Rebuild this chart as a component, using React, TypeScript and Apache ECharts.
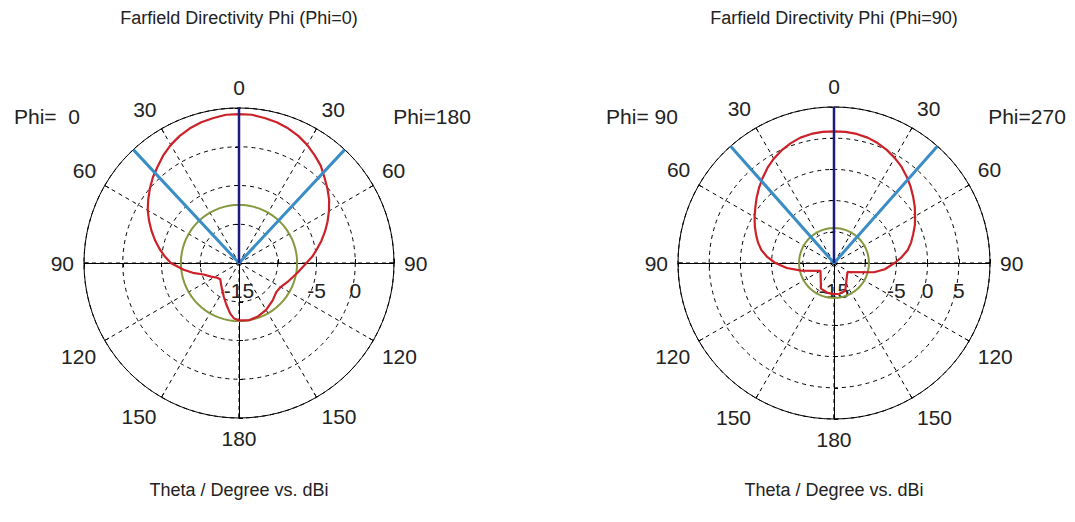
import React, { useEffect, useRef } from "react";
import * as echarts from "echarts";

// ---- data (theta measured clockwise from top, in degrees; values in dBi) ----
const phi0Theta = [0, 5, 10, 15, 20, 25, 30, 35, 40, 45, 50, 55, 60, 65, 70, 75, 80, 85, 90, 100, 110, 120, 128, 138, 150, 160, 170, 180, 185, 190, 197, 204, 212, 220, 229, 236, 244, 252, 258, 263, 270, 275, 280, 285, 290, 295, 300, 305, 310, 315, 320, 325, 330, 335, 340, 345, 350, 355, 360];
const phi0Db = [4.2, 4.2, 4.0, 3.8, 3.5, 3.1, 2.6, 2.0, 1.4, 0.6, -0.1, -0.8, -1.6, -2.4, -3.2, -4.0, -4.8, -5.5, -6.3, -7.4, -8.2, -8.8, -8.9, -8.5, -8.0, -7.7, -7.5, -7.6, -7.8, -8.4, -9.4, -10.2, -10.9, -11.4, -11.8, -11.6, -11.0, -10.2, -8.9, -7.8, -6.2, -5.4, -4.6, -3.8, -3.0, -2.2, -1.4, -0.7, 0.0, 0.7, 1.3, 2.0, 2.6, 3.1, 3.5, 3.8, 4.0, 4.2, 4.2];

const phi90Theta = [0, 5, 10, 15, 20, 25, 30, 35, 40, 45, 50, 55, 60, 65, 70, 75, 80, 85, 90, 97, 103, 124, 158, 170, 180, 192, 207, 240, 257, 264, 270, 275, 280, 285, 290, 295, 300, 305, 310, 315, 320, 325, 330, 335, 340, 345, 350, 355, 360];
const phi90Db = [6.1, 6.1, 6.0, 5.8, 5.45, 5.0, 4.45, 3.85, 3.1, 2.35, 1.55, 0.8, 0.0, -0.7, -1.5, -2.2, -3.0, -4.1, -5.3, -6.8, -8.4, -12.4, -10.2, -10.0, -10.0, -10.1, -10.4, -12.5, -9.6, -7.4, -5.6, -4.3, -3.2, -2.4, -1.7, -1.0, -0.3, 0.4, 1.2, 2.0, 2.8, 3.6, 4.3, 4.9, 5.4, 5.8, 6.0, 6.1, 6.1];

const sideLobeLevel = [-7.5, -9.4];
const mainLobeDir = [0, 0];
const beamEdges = [[317, 43], [318.5, 41.5]];
const radiusMin = -15;
const radiusMax = [5, 10];
const radiusStep = 5;
const hiddenRadiusLabels = [[-10, 5], [-10, 10]];

const titles = ["Farfield Directivity Phi (Phi=0)", "Farfield Directivity Phi (Phi=90)"];
const leftPhiLabels = ["Phi=  0", "Phi= 90"];
const rightPhiLabels = ["Phi=180", "Phi=270"];
const footer = "Theta / Degree vs. dBi";

const FONT = '"Liberation Sans", Arial, sans-serif';
const TXT = "#222222";
const RED = "#cc2128";
const GREEN = "#85993f";
const LBLUE = "#3b8dc6";
const NAVY = "#1b1b82";

const centers = [[239, 263], [834, 263]];
const radii = [155, 156];

function buildOption() {
  const polar: any[] = [];
  const angleAxis: any[] = [];
  const radiusAxis: any[] = [];
  const series: any[] = [];
  const graphic: any[] = [];
  const startAngles = [90, 0, 180, 270];

  for (let k = 0; k < 2; k++) {
    const max = radiusMax[k];
    startAngles.forEach((sa, j) => {
      const idx = k * 4 + j;
      polar.push({ center: centers[k], radius: radii[k] });
      if (j === 0) {
        angleAxis.push({
          polarIndex: idx,
          type: "value",
          min: 0,
          max: 360,
          interval: 30,
          startAngle: 90,
          clockwise: true,
          axisLine: { show: true, lineStyle: { color: "#000", width: 1 } },
          axisTick: { show: true, inside: true, length: 5, lineStyle: { color: "#000" } },
          axisLabel: {
            show: true,
            margin: 10,
            fontSize: 21,
            fontFamily: FONT,
            color: TXT,
            formatter: (v: number) => (v >= 360 ? "" : String(v <= 180 ? v : 360 - v)),
          },
          splitLine: { show: true, lineStyle: { type: [4, 4], color: "#000", width: 1 } },
        });
      } else {
        angleAxis.push({
          polarIndex: idx,
          type: "value",
          min: 0,
          max: 360,
          startAngle: sa,
          clockwise: true,
          axisLine: { show: false },
          axisTick: { show: false },
          axisLabel: { show: false },
          splitLine: { show: false },
        });
      }
      radiusAxis.push({
        polarIndex: idx,
        type: "value",
        min: radiusMin,
        max: max,
        interval: radiusStep,
        axisLine: { show: true, lineStyle: { color: "#000", width: 1 } },
        axisTick: { show: true, length: 4, lineStyle: { color: "#000" } },
        axisLabel: {
          show: j === 1,
          margin: -27,
          verticalAlign: "middle",
          fontSize: 21,
          fontFamily: FONT,
          color: TXT,
          formatter: (v: number) => (hiddenRadiusLabels[k].includes(v) ? "" : String(v)),
        },
        splitLine: j === 0
          ? { show: true, lineStyle: { type: [4, 4], color: "#000", width: 1 } }
          : { show: false },
      });
    });

    const main = k * 4;
    const sll = sideLobeLevel[k];
    const circle: number[][] = [];
    for (let a = 0; a <= 360; a += 5) circle.push([sll, a]);
    series.push({
      type: "line",
      coordinateSystem: "polar",
      polarIndex: main,
      data: circle,
      showSymbol: false,
      silent: true,
      lineStyle: { color: GREEN, width: 2 },
      z: 3,
    });
    const th = k === 0 ? phi0Theta : phi90Theta;
    const db = k === 0 ? phi0Db : phi90Db;
    series.push({
      type: "line",
      coordinateSystem: "polar",
      polarIndex: main,
      data: th.map((t, i) => [db[i], t]),
      showSymbol: false,
      silent: true,
      lineStyle: { color: RED, width: 2.2 },
      z: 4,
    });
    series.push({
      type: "line",
      coordinateSystem: "polar",
      polarIndex: main,
      data: [[max, beamEdges[k][0]], [radiusMin, 0], [max, beamEdges[k][1]]],
      showSymbol: false,
      silent: true,
      lineStyle: { color: LBLUE, width: 3 },
      z: 5,
    });
    series.push({
      type: "line",
      coordinateSystem: "polar",
      polarIndex: main,
      data: [[radiusMin, mainLobeDir[k]], [max, mainLobeDir[k]]],
      showSymbol: false,
      silent: true,
      lineStyle: { color: NAVY, width: 2.5 },
      z: 6,
    });

    const cx = centers[k][0];
    const textStyle = (text: string, size: number) => ({
      text,
      font: `${size}px ${FONT}`,
      fill: TXT,
      align: "center",
      verticalAlign: "middle",
      textAlign: "center",
      textVerticalAlign: "middle",
    });
    graphic.push({ type: "text", x: cx, y: 18, style: textStyle(titles[k], 18) });
    graphic.push({ type: "text", x: cx, y: 490, style: textStyle(footer, 18) });
    graphic.push({ type: "text", x: cx - 192, y: 116, style: textStyle(leftPhiLabels[k], 21) });
    graphic.push({ type: "text", x: cx + 193, y: 116, style: textStyle(rightPhiLabels[k], 21) });
  }

  return {
    animation: false,
    backgroundColor: "#ffffff",
    polar,
    angleAxis,
    radiusAxis,
    series,
    graphic,
  };
}

export default function App() {
  const ref = useRef<HTMLDivElement>(null);
  useEffect(() => {
    if (!ref.current) return;
    const chart = echarts.init(ref.current, undefined, { renderer: "svg" });
    chart.setOption(buildOption());
    return () => chart.dispose();
  }, []);
  return (
    <div
      ref={ref}
      style={{ position: "fixed", left: 0, top: 0, width: 1075, height: 522, background: "#fff" }}
    />
  );
}
